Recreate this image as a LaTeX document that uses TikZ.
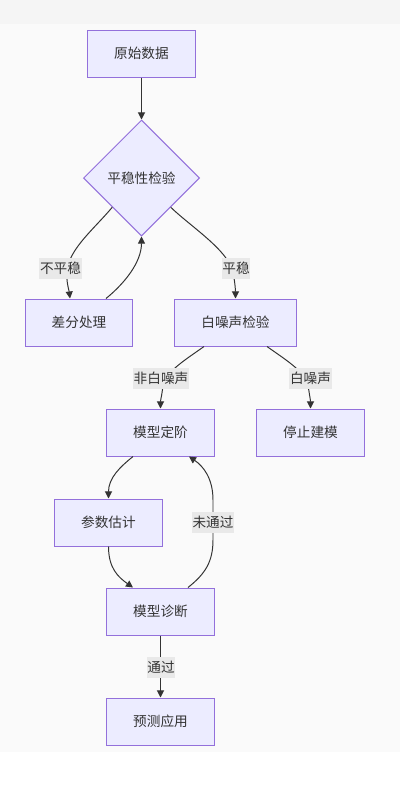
\documentclass[tikz,border=0pt]{standalone}
\usepackage{fontspec}
\setmainfont{Noto Sans CJK SC}
\usetikzlibrary{arrows.meta,shapes.geometric,calc}
\definecolor{boxfill}{HTML}{ECECFF}
\definecolor{boxline}{HTML}{9370DB}
\definecolor{ink}{HTML}{333333}
\definecolor{lblfill}{HTML}{E9E9E9}
\definecolor{bgtop}{HTML}{F5F5F5}
\definecolor{bgmain}{HTML}{FAFAFA}

\begin{document}
\begin{tikzpicture}[x=0.025cm, y=-0.025cm, >={Triangle[length=5pt,width=5pt]},
  font=\fontsize{9.7}{11}\selectfont, text=ink,
  procbox/.style={draw=boxline, fill=boxfill, line width=0.7pt,
    minimum width=2.675cm, minimum height=1.175cm, inner sep=0pt},
  decision/.style={diamond, draw=boxline, fill=boxfill, line width=0.7pt,
    minimum width=2.9cm, minimum height=2.9cm, inner sep=0pt},
  flow/.style={->, draw=ink, line width=0.7pt},
  edgelbl/.style={fill=lblfill, inner sep=0.4pt, minimum height=0.525cm}]
  \useasboundingbox (0,0) rectangle (400,792);
  \fill[bgtop] (0,0) rectangle (400,24);
  \fill[bgmain] (0,24) rectangle (400,752);
  % nodes
  \node (raw) at (141.5,53.5) [procbox] {原始数据};
  \node (stat) at (141.5,178) [decision] {平稳性检验};
  \node (diff) at (79,322.5) [procbox] {差分处理};
  \node (wn) at (235.5,322.5) [procbox, minimum width=3.025cm] {白噪声检验};
  \node (order) at (160.5,432.5) [procbox] {模型定阶};
  \node (stop) at (310.5,432.5) [procbox] {停止建模};
  \node (est) at (108.5,522.5) [procbox] {参数估计};
  \node (diag) at (160.5,611.5) [procbox] {模型诊断};
  \node (fore) at (160.5,721.5) [procbox] {预测应用};
  % connectors
  \draw[flow] (raw.south) -- (stat.north);
  \draw[flow] (stat.south west) .. controls (95,228) and (70,248) .. (67,270)
    .. controls (66,282) and (69,290) .. ($(diff.north)+(-9,0)$);
  \draw[flow] ($(diff.north)+(27,0)$) .. controls (125,283) and (141.5,262) .. (stat.south);
  \draw[flow] (stat.south east) .. controls (190,226) and (228,250) .. (233,272)
    .. controls (235,283) and (235.5,290) .. (wn.north);
  \draw[flow] ($(wn.south)+(-31.5,0)$) .. controls (188,358) and (165,372) .. (163,385)
    .. controls (162,395) and (160.5,400) .. (order.north);
  \draw[flow] ($(wn.south)+(31.5,0)$) .. controls (283,358) and (306,372) .. (308,385)
    .. controls (309.5,395) and (310.5,400) .. (stop.north);
  \draw[flow] ($(order.south)+(-27.5,0)$) .. controls (120,467) and (108.5,478) .. (est.north);
  \draw[flow] (est.south) .. controls (108.5,568) and (118,577) .. ($(diag.north)+(-27.5,0)$);
  \draw[flow] ($(diag.north)+(27.5,0)$) .. controls (205,574) and (213,562) .. (213,540)
    -- (213,500) .. controls (213,478) and (203,466) .. ($(order.south)+(28.5,0)$);
  \draw[flow] (diag.south) -- (fore.north);
  % edge labels
  \node (lnonstat) at (60.5,268) [edgelbl] {不平稳};
  \node (lstat) at (236,268) [edgelbl] {平稳};
  \node (lnonwn) at (161,378) [edgelbl] {非白噪声};
  \node (lwn) at (310.5,378) [edgelbl] {白噪声};
  \node (lfail) at (213,522.5) [edgelbl] {未通过};
  \node (lpass) at (161,667.5) [edgelbl] {通过};
\end{tikzpicture}
\end{document}
